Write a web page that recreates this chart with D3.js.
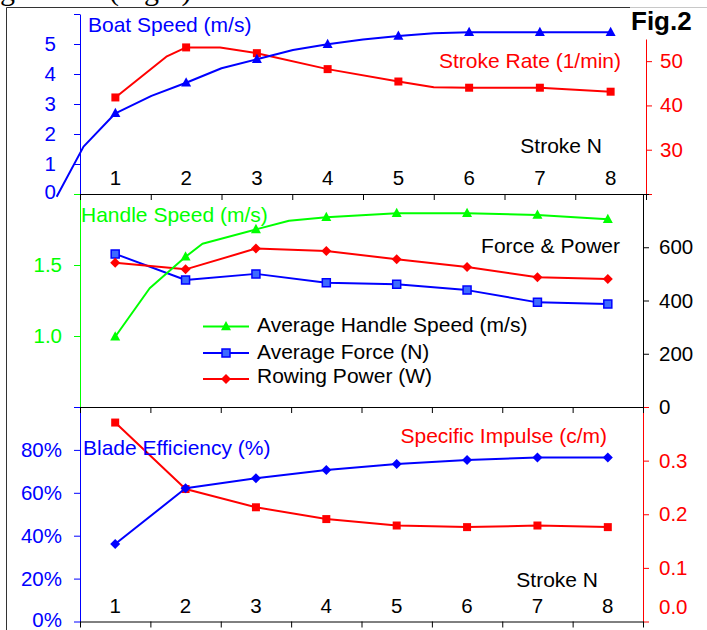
<!DOCTYPE html>
<html>
<head>
<meta charset="utf-8">
<script src="https://cdn.jsdelivr.net/npm/d3@7"></script>
<style>
  body { margin: 0; background: #fff; }
  svg { display: block; font-family: "Liberation Sans", Arial, sans-serif; }
</style>
</head>
<body>
<div id="chart"></div>
<script>
// stroke numbers shared by all three panels
const strokes = [1, 2, 3, 4, 5, 6, 7, 8];

// top panel
const boatSpeed = [2.69, 3.71, 4.49, 4.99, 5.27, 5.39, 5.39, 5.39];
const boatSpeedLine = [[0.17, -0.09], [0.55, 1.58], [1, 2.69], [1.51, 3.27], [2, 3.71], [2.5, 4.19],
  [3, 4.49], [3.51, 4.8], [4, 4.99], [4.5, 5.15], [5, 5.27], [5.5, 5.36], [6, 5.39], [7, 5.39], [8, 5.39]];
const strokeRate = [41.8, 53.1, 51.8, 48.2, 45.4, 44.0, 44.0, 43.1];
const strokeRateLine = [[1, 41.8], [1.72, 51.0], [2, 53.1], [2.48, 53.1], [3, 51.8], [4, 48.2],
  [5, 45.4], [5.5, 44.1], [6, 44.0], [7, 44.0], [8, 43.1]];

// middle panel
const handleSpeed = [0.995, 1.558, 1.751, 1.836, 1.864, 1.864, 1.852, 1.822];
const handleSpeedLine = [[1, 0.995], [1.49, 1.336], [2, 1.558], [2.24, 1.65], [3, 1.751], [3.47, 1.812],
  [4, 1.836], [5, 1.864], [6, 1.864], [7, 1.852], [8, 1.822]];
const avgForce = [575, 477, 500, 467, 461, 439, 393, 387];
const rowingPower = [542, 517, 595, 586, 555, 526, 487, 481];

// bottom panel
const bladeEfficiency = [0.361, 0.621, 0.668, 0.706, 0.734, 0.753, 0.764, 0.764];
const specificImpulse = [0.371, 0.247, 0.213, 0.191, 0.179, 0.176, 0.179, 0.176];

// axis ticks
const boatTicks = [0, 1, 2, 3, 4, 5, 6];
const rateTicks = [20, 30, 40, 50];
const handleTicks = [0.5, 1.0, 1.5, 2.0];
const forceTicks = [0, 200, 400, 600, 800];
const effTicks = [0, 0.2, 0.4, 0.6, 0.8, 1.0];
const impulseTicks = [0, 0.1, 0.2, 0.3, 0.4];
const legendLabels = ['Average Handle Speed (m/s)', 'Average Force (N)', 'Rowing Power (W)'];

const W = 707, H = 630;
const BLUE = '#0000ff', RED = '#ff0000', GREEN = '#00ff00';

const svg = d3.select('#chart').append('svg')
  .attr('width', W)
  .attr('height', H);

// page text cut off above the figure, and the figure frame
svg.append('text')
  .attr('x', 0).attr('y', -0.5)
  .attr('font-family', '"Liberation Serif", "Times New Roman", serif')
  .attr('font-size', 30)
  .text('generate (Fig.2).');
svg.append('path').attr('d', 'M6.5,630V7.5H630').attr('fill', 'none').attr('stroke', '#333');
svg.append('path').attr('d', 'M630,7.5H707').attr('fill', 'none').attr('stroke', '#c8c8c8');

const xTop = d3.scaleLinear().domain([0.5, 8.5]).range([80, 646]);
const xLow = d3.scaleLinear().domain([0.5, 8.5]).range([80, 643]);

const yBoat = d3.scaleLinear().domain([0, 6]).range([194, 14]);
const yRate = d3.scaleLinear().domain([20, 55]).range([194, 39]);
const yHandle = d3.scaleLinear().domain([0.5, 2]).range([407, 194]);
const yForce = d3.scaleLinear().domain([0, 800]).range([407, 194]);
const yEff = d3.scaleLinear().domain([0, 1]).range([621.5, 407]);
const yImp = d3.scaleLinear().domain([0, 0.4]).range([621.5, 407]);

function drawAxis(axis, tx, ty, lineColor, textColor) {
  const g = svg.append('g')
    .attr('transform', `translate(${tx},${ty})`)
    .call(axis)
    .attr('font-size', 20.5)
    .attr('font-family', null);
  g.selectAll('path, line').attr('stroke', lineColor);
  g.selectAll('text').attr('fill', textColor);
  return g;
}

// left axes
const boatAxis = drawAxis(d3.axisLeft(yBoat).tickValues(boatTicks).tickSize(6).tickSizeOuter(0).tickPadding(18)
  .tickFormat(d => d < 6 ? d : ''), 80, 0, BLUE, BLUE);
boatAxis.selectAll('text').filter(d => d === 0).attr('dy', '0.22em');
drawAxis(d3.axisLeft(yHandle).tickValues(handleTicks).tickSize(6).tickSizeOuter(0).tickPadding(12)
  .tickFormat(d => (d === 1 || d === 1.5) ? d3.format('.1f')(d) : ''), 80, 0, GREEN, GREEN);
const effAxis = drawAxis(d3.axisLeft(yEff).tickValues(effTicks).tickSize(6).tickSizeOuter(0).tickPadding(12)
  .tickFormat(d => d < 1 ? d3.format('.0%')(d) : ''), 80, 0, BLUE, BLUE);
effAxis.selectAll('text').filter(d => d === 0).attr('dy', '0.22em');

// right axes
drawAxis(d3.axisRight(yRate).tickValues(rateTicks).tickSize(6).tickSizeOuter(0).tickPadding(8)
  .tickFormat(d => d > 20 ? d : ''), 646, 0, RED, RED);
drawAxis(d3.axisRight(yForce).tickValues(forceTicks).tickSize(6).tickSizeOuter(0).tickPadding(10)
  .tickFormat(d => d < 800 ? d : ''), 643, 0, '#000', '#000');
const impAxis = drawAxis(d3.axisRight(yImp).tickValues(impulseTicks).tickSize(6).tickSizeOuter(0).tickPadding(10)
  .tickFormat(d => d < 0.4 ? d3.format('.1f')(d) : ''), 643, 0, RED, RED);
impAxis.selectAll('text').filter(d => d === 0).attr('dy', '-0.4em');

// stroke axes (ticks between strokes, labels inside the plot)
const bounds = d3.range(0.5, 9, 1);
drawAxis(d3.axisBottom(xTop).tickValues(bounds).tickSize(6).tickSizeOuter(0).tickFormat(''), 0, 194, '#000', '#000');
drawAxis(d3.axisBottom(xLow).tickValues(bounds).tickSize(6).tickSizeOuter(0).tickFormat(''), 0, 407, '#000', '#000');
drawAxis(d3.axisBottom(xLow).tickValues(bounds).tickSize(6).tickSizeOuter(0).tickFormat(''), 0, 621.5, '#000', '#000');

svg.append('g').selectAll('text').data(strokes).join('text')
  .attr('x', d => xTop(d)).attr('y', 185)
  .attr('text-anchor', 'middle').attr('font-size', 20.5)
  .text(d => d);
svg.append('g').selectAll('text').data(strokes).join('text')
  .attr('x', d => xLow(d)).attr('y', 613)
  .attr('text-anchor', 'middle').attr('font-size', 20.5)
  .text(d => d);

// marker shapes
const shapes = {
  triangle: 'M0,-5.5L5,3.8L-5,3.8Z',
  square: 'M-4,-4H4V4H-4Z',
  diamond: 'M0,-5L5,0L0,5L-5,0Z'
};

function drawSeries(x, y, linePts, values, color, shape, fill) {
  const line = d3.line().x(d => x(d[0])).y(d => y(d[1]));
  svg.append('path')
    .attr('d', line(linePts))
    .attr('fill', 'none')
    .attr('stroke', color)
    .attr('stroke-width', 2)
    .attr('stroke-linejoin', 'round');
  svg.append('g').selectAll('path').data(values).join('path')
    .attr('transform', (d, i) => `translate(${x(strokes[i])},${y(d)})`)
    .attr('d', shapes[shape])
    .attr('fill', fill || color)
    .attr('stroke', color)
    .attr('stroke-width', fill ? 1.5 : 0);
}

const pairs = vals => vals.map((v, i) => [strokes[i], v]);

drawSeries(xTop, yRate, strokeRateLine, strokeRate, RED, 'square');
drawSeries(xTop, yBoat, boatSpeedLine, boatSpeed, BLUE, 'triangle');

drawSeries(xLow, yForce, pairs(avgForce), avgForce, BLUE, 'square', '#3d6bff');
drawSeries(xLow, yForce, pairs(rowingPower), rowingPower, RED, 'diamond');
drawSeries(xLow, yHandle, handleSpeedLine, handleSpeed, GREEN, 'triangle');

drawSeries(xLow, yImp, pairs(specificImpulse), specificImpulse, RED, 'square');
drawSeries(xLow, yEff, pairs(bladeEfficiency), bladeEfficiency, BLUE, 'diamond');

// titles
function label(txt, x, y, color, anchor, size, weight) {
  svg.append('text')
    .attr('x', x).attr('y', y)
    .attr('fill', color)
    .attr('text-anchor', anchor || 'start')
    .attr('font-size', size || 21)
    .attr('font-weight', weight || null)
    .text(txt);
}

label('Boat Speed (m/s)', 88, 31.5, BLUE);
label('Stroke Rate (1/min)', 621, 68, RED, 'end');
label('Stroke N', 602, 153, '#000', 'end');
label('Fig.2', 631, 30, '#000', 'start', 26, 'bold');
label('Handle Speed (m/s)', 81, 222, GREEN);
label('Force & Power', 620, 253, '#000', 'end');
label('Blade Efficiency (%)', 83, 455, BLUE);
label('Specific Impulse (c/m)', 607, 442.5, RED, 'end');
label('Stroke N', 598, 586.5, '#000', 'end');

// legend
const legendRows = [
  { y: 326.5, color: GREEN, shape: 'triangle' },
  { y: 353, color: BLUE, shape: 'square', fill: '#3d6bff' },
  { y: 379, color: RED, shape: 'diamond' }
];
const legend = svg.append('g').selectAll('g').data(legendRows).join('g')
  .attr('transform', d => `translate(0,${d.y})`);
legend.append('line')
  .attr('x1', 203).attr('x2', 249)
  .attr('stroke', d => d.color).attr('stroke-width', 2);
legend.append('path')
  .attr('transform', 'translate(226,0)')
  .attr('d', d => shapes[d.shape])
  .attr('fill', d => d.fill || d.color)
  .attr('stroke', d => d.color)
  .attr('stroke-width', d => d.fill ? 1.5 : 0);
legend.append('text')
  .attr('x', 257).attr('y', (d, i) => [5.2, 6.3, 4.3][i])
  .attr('font-size', 21)
  .text((d, i) => legendLabels[i]);
</script>
</body>
</html>
